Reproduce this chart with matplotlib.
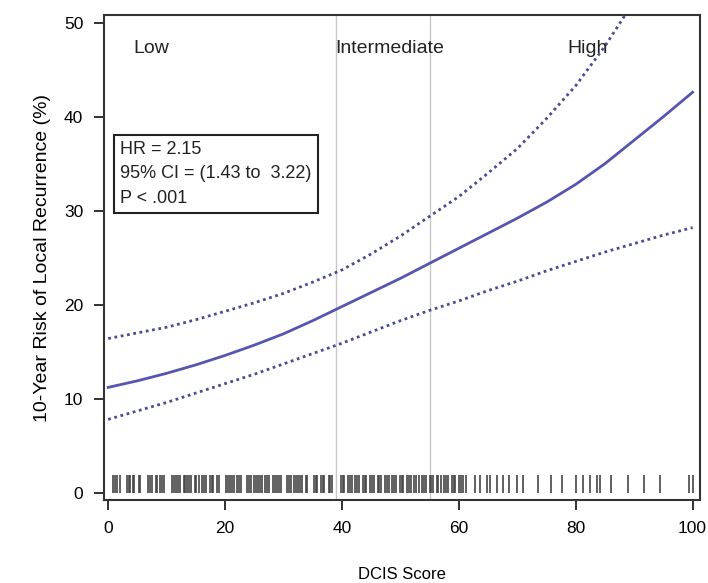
import numpy as np
import matplotlib.pyplot as plt

plt.rcParams['font.family'] = ['Liberation Sans', 'DejaVu Sans']

# risk curve (DCIS score vs 10-year risk, %)
score = [0, 5, 10, 15, 20, 25, 30, 35, 40, 45, 50,
         55, 60, 65, 70, 75, 80, 85, 90, 95, 100]
risk = [11.2, 11.9, 12.7, 13.6, 14.6, 15.7, 16.9, 18.3, 19.8, 21.3, 22.8,
        24.4, 26.0, 27.6, 29.2, 30.9, 32.8, 35.0, 37.5, 40.0, 42.6]
upper = [16.4, 17.0, 17.6, 18.4, 19.3, 20.2, 21.2, 22.4, 23.7, 25.4, 27.3,
         29.4, 31.5, 34.0, 36.6, 39.8, 43.3, 47.5, 52.3, 57.5, 63.0]
lower = [7.8, 8.7, 9.6, 10.6, 11.6, 12.6, 13.7, 14.8, 15.9, 17.1, 18.3,
         19.4, 20.4, 21.5, 22.5, 23.6, 24.6, 25.6, 26.5, 27.4, 28.2]

# patient scores (rug)
rug = [0.8, 1.2, 1.5, 2.0, 3.2, 3.5, 3.8, 4.2, 4.5, 5.2, 5.5, 6.8, 7.1, 7.5,
       8.1, 8.4, 8.8, 9.2, 9.5, 11.0, 11.3, 11.6, 12.0, 12.3, 12.9, 13.2, 13.5,
       13.9, 14.2, 14.8, 15.1, 15.5, 16.1, 16.4, 16.8, 17.4, 17.7, 18.0, 18.7,
       19.0, 20.2, 20.5, 20.8, 21.2, 21.5, 22.1, 22.4, 22.7, 23.8, 24.1, 24.4,
       25.0, 25.3, 25.7, 26.0, 26.3, 26.9, 27.2, 27.6, 28.2, 28.5, 28.9, 29.2,
       29.5, 30.6, 30.9, 31.2, 31.8, 32.1, 32.5, 32.8, 33.1, 33.8, 34.1, 35.2,
       35.5, 35.8, 36.4, 36.7, 37.0, 37.7, 38.0, 38.3, 39.8, 40.1, 40.4, 41.0,
       41.3, 41.7, 42.3, 42.6, 42.9, 43.6, 43.9, 44.2, 44.8, 45.1, 45.5, 46.1,
       46.4, 46.7, 47.4, 47.7, 48.0, 48.6, 48.9, 49.3, 49.9, 50.2, 50.5, 51.2,
       51.5, 51.8, 52.4, 52.7, 53.1, 53.7, 54.0, 54.3, 55.0, 55.3, 55.6, 56.2,
       56.5, 56.9, 57.5, 57.8, 58.1, 58.8, 59.1, 59.4, 60.0, 60.3, 60.7, 61.3,
       62.8, 63.7, 64.9, 65.4, 66.6, 67.6, 68.5, 70.0, 71.0, 73.6, 75.7,
       77.7, 80.0, 81.2, 82.5, 83.7, 84.2, 86.0, 88.9, 91.6, 94.5, 99.3, 100.0]

cutoffs = [39, 55]
groups = ["Low", "Intermediate", "High"]
group_x = [4.3, 38.9, 78.6]

fig = plt.figure(figsize=(7.08, 5.83), dpi=100)
ax = fig.add_axes([0.147, 0.142, 0.842, 0.832])

for c in cutoffs:
    ax.axvline(c, color='#c8c8c8', lw=1, zorder=1)

ax.vlines(rug, 0, 1.9, color='#454545', lw=1.4, alpha=0.85, zorder=2)

ax.plot(score, risk, '-', color='#5656b0', lw=2, zorder=3)
ax.plot(score, upper, color='#4c4c94', lw=2, dashes=(1, 1.3), zorder=3)
ax.plot(score, lower, color='#4c4c94', lw=2, dashes=(1, 1.3), zorder=3)

for g, gx in zip(groups, group_x):
    ax.text(gx, 47.3, g, fontsize=14, va='center', ha='left', color='#222222')

ax.text(0.027, 0.74, "HR = 2.15\n95% CI = (1.43 to  3.22)\nP < .001",
        transform=ax.transAxes, fontsize=13, va='top', ha='left',
        linespacing=1.55, color='#222222',
        bbox=dict(boxstyle='square,pad=0.35', fc='white', ec='#222222', lw=1.5))

ax.set_xlim(-0.7, 101.3)
ax.set_ylim(-0.8, 50.8)
ax.set_xticks([0, 20, 40, 60, 80, 100])
ax.set_yticks([0, 10, 20, 30, 40, 50])
ax.tick_params(labelsize=12.5, length=7, width=1.3, color='#222222', pad=8)
for s in ax.spines.values():
    s.set_linewidth(1.5)
    s.set_color('#333333')

ax.set_xlabel("DCIS Score", fontsize=12, labelpad=22)
ax.set_ylabel("10-Year Risk of Local Recurrence (%)", fontsize=14, labelpad=9)

fig.savefig("out.png", dpi=100)
